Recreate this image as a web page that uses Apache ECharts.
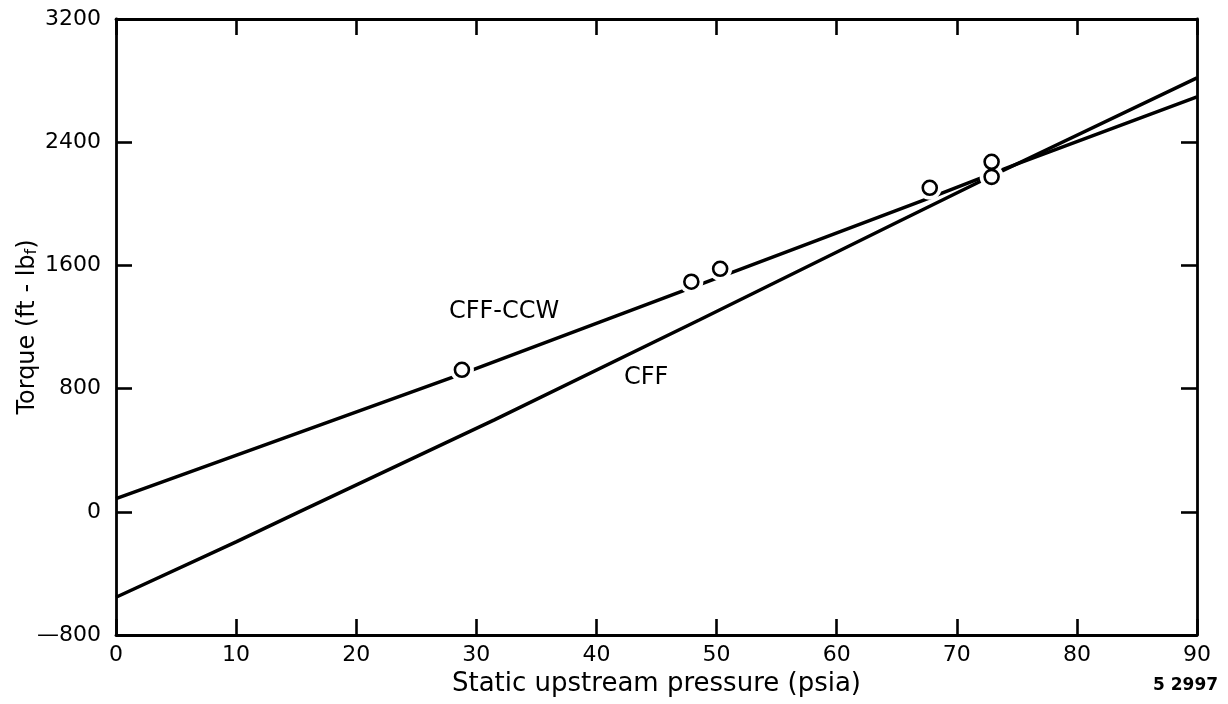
<!DOCTYPE html>
<html>
<head>
<meta charset="utf-8">
<title>Torque vs static upstream pressure</title>
<script src="https://cdn.jsdelivr.net/npm/echarts@6/dist/echarts.min.js"></script>
<style>
  html, body { margin: 0; padding: 0; background: #fff; }
  #chart { width: 1228px; height: 704px; }
</style>
</head>
<body>
<div id="chart"></div>
<script>
// Static upstream pressure (psia) vs torque (ft-lbf)
const xTicks = [0, 10, 20, 30, 40, 50, 60, 70, 80, 90];
const yTicks = [-800, 0, 800, 1600, 2400, 3200];

// CFF-CCW curve
const ccwPressure = [0, 28.8, 50.3, 67.75, 75.25, 90];
const ccwTorque   = [85, 896, 1526, 2039, 2266, 2695];

// CFF curve
const cffPressure = [0, 10, 15.25, 31.5, 48.6, 65.25, 71.9, 90];
const cffTorque   = [-555, -195, 0, 597, 1247, 1888, 2143, 2818];

// Measured points
const testPressure = [28.8, 47.9, 50.3, 67.75, 72.9, 72.9];
const testTorque   = [922, 1494, 1578, 2104, 2175, 2273];

const pairs = (xs, ys) => xs.map((x, i) => [x, ys[i]]);

const FONT = 'DejaVu Sans';
const INK = '#000';

const chart = echarts.init(document.getElementById('chart'), null, { renderer: 'canvas' });

const axisLine = { show: true, onZero: false, lineStyle: { color: INK, width: 2.8 } };
const axisTick = { show: true, inside: true, length: 16, lineStyle: { color: INK, width: 2.6 } };

chart.setOption({
  backgroundColor: '#fff',
  animation: false,
  grid: { left: 116, right: 31, top: 19, bottom: 69, containLabel: false, outerBoundsMode: 'none' },
  xAxis: [
    {
      type: 'value', position: 'bottom',
      min: xTicks[0], max: xTicks[xTicks.length - 1], interval: 10,
      axisLine, axisTick, splitLine: { show: false },
      axisLabel: { color: INK, fontFamily: FONT, fontSize: 22, margin: 9 },
      name: 'Static upstream pressure (psia)',
      nameLocation: 'middle', nameGap: 36, nameMoveOverlap: false,
      nameTextStyle: { color: INK, fontFamily: FONT, fontSize: 26 }
    },
    {
      type: 'value', position: 'top',
      min: xTicks[0], max: xTicks[xTicks.length - 1], interval: 10,
      axisLine, axisTick, splitLine: { show: false },
      axisLabel: { show: false }
    }
  ],
  yAxis: [
    {
      type: 'value', position: 'left',
      min: yTicks[0], max: yTicks[yTicks.length - 1], interval: 800,
      axisLine, axisTick, splitLine: { show: false },
      axisLabel: {
        color: INK, fontFamily: FONT, fontSize: 22, margin: 15,
        formatter: v => (v < 0 ? '\u2014' + Math.abs(v) : String(v))
      },
      name: 'Torque (ft - lb{sub|f})',
      nameLocation: 'middle', nameGap: 76, nameRotate: 90, nameMoveOverlap: false,
      nameTextStyle: {
        color: INK, fontFamily: FONT, fontSize: 24,
        rich: { sub: { fontFamily: FONT, fontSize: 16, color: INK, verticalAlign: 'bottom', lineHeight: 14 } }
      }
    },
    {
      type: 'value', position: 'right',
      min: yTicks[0], max: yTicks[yTicks.length - 1], interval: 800,
      axisLine, axisTick, splitLine: { show: false },
      axisLabel: { show: false }
    }
  ],
  series: [
    {
      name: 'CFF-CCW', type: 'line', xAxisIndex: 0, yAxisIndex: 0,
      data: pairs(ccwPressure, ccwTorque), showSymbol: false, symbol: 'none',
      lineStyle: { color: INK, width: 3.5 }, z: 2
    },
    {
      name: 'CFF', type: 'line', xAxisIndex: 0, yAxisIndex: 0,
      data: pairs(cffPressure, cffTorque), showSymbol: false, symbol: 'none',
      lineStyle: { color: INK, width: 3.5 }, z: 2
    },
    {
      // white halo that breaks the curves around each measured point
      name: 'halo', type: 'scatter', xAxisIndex: 0, yAxisIndex: 0,
      data: pairs(testPressure, testTorque), symbol: 'circle', symbolSize: 24,
      itemStyle: { color: '#fff', borderWidth: 0, opacity: 1 }, z: 3, silent: true
    },
    {
      name: 'Test data', type: 'scatter', xAxisIndex: 0, yAxisIndex: 0,
      data: pairs(testPressure, testTorque), symbol: 'circle', symbolSize: 14,
      itemStyle: { color: '#fff', borderColor: INK, borderWidth: 2.6, opacity: 1 }, z: 4
    }
  ],
  graphic: [
    { type: 'text', left: 449, top: 300,
      style: { text: 'CFF-CCW', font: '24px "DejaVu Sans"', fill: INK } },
    { type: 'text', left: 624, top: 366,
      style: { text: 'CFF', font: '24px "DejaVu Sans"', fill: INK } },
    { type: 'text', left: 1153, top: 677,
      style: { text: '5 2997', font: 'bold 17px "DejaVu Sans"', fill: INK } }
  ]
});
</script>
</body>
</html>
